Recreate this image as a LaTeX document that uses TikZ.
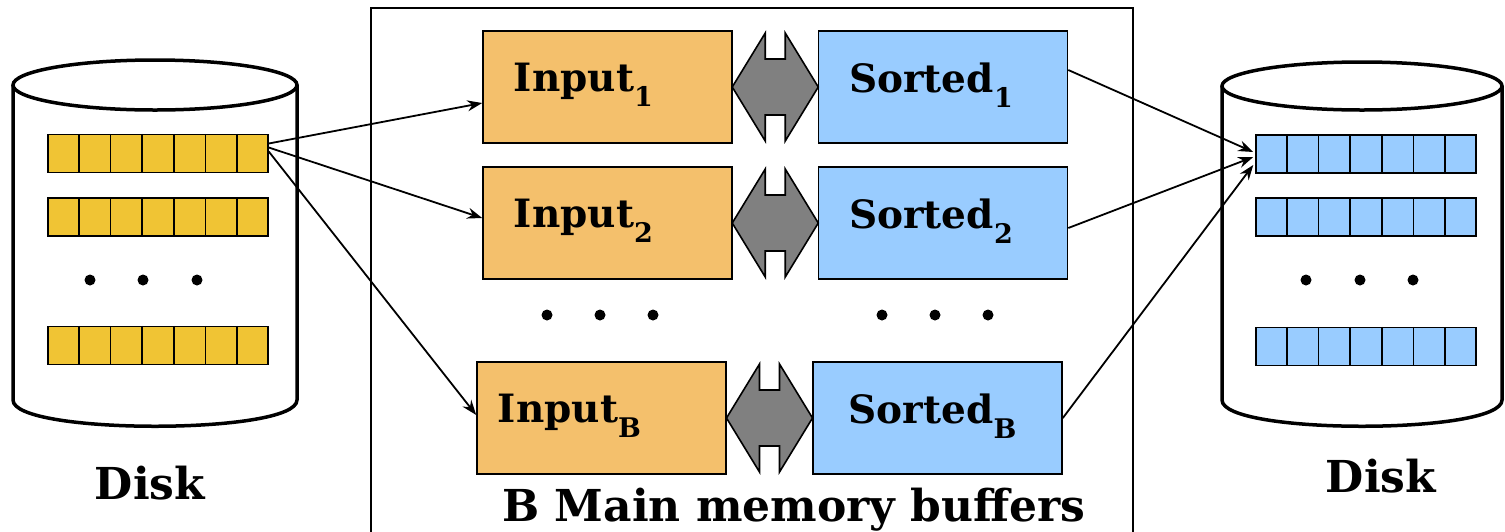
\documentclass[tikz,border=0pt]{standalone}
\usepackage{fontspec}
\setmainfont{DejaVu Serif}
\usetikzlibrary{calc,arrows.meta}
\definecolor{inorange}{HTML}{F4C06C}
\definecolor{sortblue}{HTML}{99CCFF}
\definecolor{baryellow}{HTML}{F0C434}
\definecolor{arrgray}{HTML}{808080}
\newcommand{\mysub}[1]{\raisebox{-0.38em}{\fontsize{27}{27}\selectfont #1}}
\tikzset{
 buf/.style={draw, line width=1.6pt, minimum width=249, minimum height=112, inner sep=0pt},
 inbuf/.style={buf, fill=inorange},
 sortbuf/.style={buf, fill=sortblue},
 lbl/.style={font=\fontsize{39}{41}\selectfont\bfseries, inner sep=0pt},
 biglbl/.style={font=\fontsize{44}{46}\selectfont\bfseries, inner sep=0pt},
 diskbar/.style={draw, line width=1.5pt, minimum width=220, minimum height=38, inner sep=0pt},
 cellline/.style={line width=1.5pt},
 disk/.style={draw, line width=3.5pt, fill=white},
 dbl/.style={draw, line width=1.6pt, fill=arrgray, line join=miter},
 link/.style={line width=1.8pt, -{Stealth[length=15pt,width=11pt,inset=5pt]}},
 dot/.style={circle, fill=black, inner sep=0pt, minimum size=11pt},
 memframe/.style={line width=1.6pt},
}
\begin{document}
\begin{tikzpicture}[x=1pt,y=-1pt]
\useasboundingbox (0,0) rectangle (1505,531);
% main memory frame
\draw[memframe] (371,560) -- (371,8) -- (1133,8) -- (1133,560);
% left disk
\draw[disk] (13,85) -- (13,400) .. controls (13,435) and (297,435) .. (297,400) -- (297,85);
\draw[disk] (155,85) ellipse [x radius=142, y radius=25];
% right disk
\draw[disk] (1222,86) -- (1222,400) .. controls (1222,435) and (1502,435) .. (1502,400) -- (1502,86);
\draw[disk] (1362,86) ellipse [x radius=140, y radius=24];
% disk bars
\node[diskbar, fill=baryellow] (lb1) at (158,153.5) {};
\node[diskbar, fill=baryellow] (lb2) at (158,217) {};
\node[diskbar, fill=baryellow] (lb3) at (158,345.5) {};
\node[diskbar, fill=sortblue] (rb1) at (1366,154) {};
\node[diskbar, fill=sortblue] (rb2) at (1366,217) {};
\node[diskbar, fill=sortblue] (rb3) at (1366,346.5) {};
\foreach \b in {lb1,lb2,lb3,rb1,rb2,rb3}{
  \foreach \i in {1,...,6}{
    \draw[cellline] ($(\b.north west)!\i/7!(\b.north east)$) -- ($(\b.south west)!\i/7!(\b.south east)$);
  }
}
% disk dots
\node[dot] (ld1) at (90,280) {};
\node[dot] (ld2) at (143,280) {};
\node[dot] (ld3) at (197,280) {};
\node[dot] (rd1) at (1306,280) {};
\node[dot] (rd2) at (1360,280) {};
\node[dot] (rd3) at (1413,280) {};
% buffers
\node[inbuf] (in1) at (607.5,87) {};
\node[sortbuf] (so1) at (943,87) {};
\node[inbuf] (in2) at (607.5,223) {};
\node[sortbuf] (so2) at (943,223) {};
\node[inbuf] (inB) at (601.5,418) {};
\node[sortbuf] (soB) at (937.5,418) {};
\node[lbl] (in1t) at ($(in1)+(-24,-2)$) {Input\mysub{1}};
\node[lbl] (so1t) at ($(so1)+(-12,-2)$) {Sorted\mysub{1}};
\node[lbl] (in2t) at ($(in2)+(-24,-2)$) {Input\mysub{2}};
\node[lbl] (so2t) at ($(so2)+(-12,-2)$) {Sorted\mysub{2}};
\node[lbl] (inBt) at ($(inB)+(-32,-2)$) {Input\mysub{B}};
\node[lbl] (soBt) at ($(soB)+(-5,-2)$) {Sorted\mysub{B}};
% middle dots
\node[dot] (m1) at (547,315) {};
\node[dot] (m2) at (600,315) {};
\node[dot] (m3) at (653,315) {};
\node[dot] (m4) at (882,315) {};
\node[dot] (m5) at (935,315) {};
\node[dot] (m6) at (988,315) {};
% double arrows between input and sorted
\foreach \a/\b in {in1/so1,in2/so2,inB/soB}{
  \draw[dbl, shift={($(\a.east)!0.5!(\b.west)$)}]
    (-43,0) -- (-10,-54) -- (-10,-28) -- (10,-28) -- (10,-54) -- (43,0)
    -- (10,54) -- (10,28) -- (-10,28) -- (-10,54) -- cycle;
}
% connectors
\draw[link] ($(lb1.east)+(0,-10)$) -- ($(in1.west)+(0,16)$);
\draw[link] ($(lb1.east)+(0,-6)$) -- ($(in2.west)+(0,-5)$);
\draw[link] ($(lb1.east)+(0,-2)$) -- ($(inB.west)+(0,-3)$);
\draw[link] ($(so1.east)+(0,-17)$) -- ($(rb1.west)+(-2,-2)$);
\draw[link] ($(so2.east)+(0,5)$) -- ($(rb1.west)+(-2,3)$);
\draw[link] (soB.east) -- ($(rb1.west)+(-2,11)$);
% labels
\node[biglbl, anchor=base] (ldisk) at (150,499) {Disk};
\node[biglbl, anchor=base] (rdisk) at (1381,492) {Disk};
\node[biglbl, anchor=base] (mm) at (794,521) {B Main memory buffers};
\end{tikzpicture}
\end{document}
